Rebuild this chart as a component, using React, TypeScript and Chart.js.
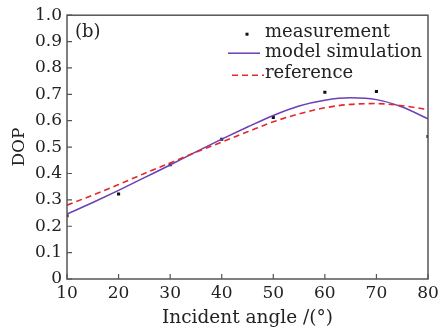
import React, { useEffect, useRef } from "react";
import { Chart, registerables } from "chart.js";

Chart.register(...registerables);

const measAngles = [10, 20, 30, 40, 50, 60, 70, 80];
const measValues = [0.24, 0.322, 0.433, 0.53, 0.612, 0.708, 0.711, 0.54];

const modelAngles = [10, 15, 20, 25, 30, 35, 40, 45, 50, 55, 60, 65, 70, 75, 80];
const modelValues = [0.246, 0.29, 0.336, 0.384, 0.432, 0.482, 0.53, 0.576, 0.62, 0.656, 0.678, 0.687, 0.68, 0.652, 0.607];

const refAngles = [10, 15, 20, 25, 30, 35, 40, 45, 50, 55, 60, 65, 70, 75, 80];
const refValues = [0.28, 0.318, 0.358, 0.4, 0.44, 0.481, 0.519, 0.558, 0.596, 0.626, 0.649, 0.662, 0.665, 0.657, 0.642];

const xTicks = [10, 20, 30, 40, 50, 60, 70, 80];
const yTicks = [0, 0.1, 0.2, 0.3, 0.4, 0.5, 0.6, 0.7, 0.8, 0.9, 1.0];

const legendLabels = ["measurement", "model simulation", "reference"];
const panelLabel = "(b)";

const FONT = "'DejaVu Serif', 'Liberation Serif', serif";
const FRAME = "#555555";
const PURPLE = "#6a40b4";
const RED = "#e5262b";

const framePlugin = {
  id: "frameTicks",
  afterDatasetsDraw(chart: any) {
    const { ctx, chartArea: a, scales } = chart;
    ctx.save();
    ctx.strokeStyle = FRAME;
    ctx.lineWidth = 1.5;
    ctx.strokeRect(a.left, a.top, a.right - a.left, a.bottom - a.top);
    ctx.lineWidth = 1.2;
    ctx.beginPath();
    xTicks.forEach((v) => {
      const x = scales.x.getPixelForValue(v);
      ctx.moveTo(x, a.bottom);
      ctx.lineTo(x, a.bottom - 5);
    });
    yTicks.forEach((v) => {
      const y = scales.y.getPixelForValue(v);
      ctx.moveTo(a.left, y);
      ctx.lineTo(a.left + 5, y);
    });
    ctx.stroke();

    // panel label
    ctx.fillStyle = "#222";
    ctx.font = `18px ${FONT}`;
    ctx.textBaseline = "middle";
    ctx.textAlign = "left";
    ctx.fillText(panelLabel, a.left + 8, a.top + 17);

    // legend
    const tx = a.left + 198;
    const rows = [a.top + 17, a.top + 37, a.top + 58];
    ctx.font = `18px ${FONT}`;
    ctx.fillStyle = "#222";
    legendLabels.forEach((t, i) => ctx.fillText(t, tx, rows[i]));
    ctx.fillStyle = "#111";
    ctx.fillRect(tx - 19.5, rows[0] + 0.5, 3, 3);
    ctx.strokeStyle = PURPLE;
    ctx.lineWidth = 1.5;
    ctx.setLineDash([]);
    ctx.beginPath();
    ctx.moveTo(tx - 37, rows[1] + 1);
    ctx.lineTo(tx - 5, rows[1] + 1);
    ctx.stroke();
    ctx.strokeStyle = RED;
    ctx.setLineDash([6, 4]);
    ctx.beginPath();
    ctx.moveTo(tx - 33, rows[2] + 2);
    ctx.lineTo(tx - 1, rows[2] + 2);
    ctx.stroke();
    ctx.restore();
  },
};

export default function App() {
  const ref = useRef<HTMLCanvasElement | null>(null);
  useEffect(() => {
    document.body.style.margin = "0";
    const chart = new Chart(ref.current as HTMLCanvasElement, {
      type: "scatter",
      data: {
        datasets: [
          {
            label: "reference",
            data: refAngles.map((x, i) => ({ x, y: refValues[i] })),
            showLine: true,
            borderColor: RED,
            borderWidth: 1.6,
            borderDash: [6, 4],
            pointRadius: 0,
            tension: 0.4,
            cubicInterpolationMode: "monotone",
          },
          {
            label: "model simulation",
            data: modelAngles.map((x, i) => ({ x, y: modelValues[i] })),
            showLine: true,
            borderColor: PURPLE,
            borderWidth: 1.5,
            pointRadius: 0,
            tension: 0.4,
            cubicInterpolationMode: "monotone",
          },
          {
            label: "measurement",
            data: measAngles.map((x, i) => ({ x, y: measValues[i] })),
            showLine: false,
            pointStyle: "rect",
            pointRadius: 2.2,
            backgroundColor: "#111",
            borderColor: "#111",
            borderWidth: 0,
          },
        ],
      },
      options: {
        animation: false,
        responsive: false,
        maintainAspectRatio: false,
        layout: { padding: { left: 0, top: 11, right: 18, bottom: 0 } },
        plugins: { legend: { display: false }, tooltip: { enabled: false } },
        scales: {
          x: {
            type: "linear",
            min: 10,
            max: 80,
            afterBuildTicks: (s: any) => {
              s.ticks = xTicks.map((v) => ({ value: v }));
            },
            afterFit: (s: any) => {
              s.height = 51;
            },
            grid: { display: false, drawTicks: false },
            border: { display: false },
            ticks: {
              color: "#222",
              font: { family: FONT, size: 17 },
              padding: 4,
              maxRotation: 0,
              callback: (v: any) => String(v),
            },
            title: {
              display: true,
              text: "Incident angle /(°)",
              color: "#222",
              font: { family: FONT, size: 18.5 },
              padding: { top: 0, bottom: 1 },
            },
          },
          y: {
            type: "linear",
            min: 0,
            max: 1,
            afterBuildTicks: (s: any) => {
              s.ticks = yTicks.map((v) => ({ value: v }));
            },
            afterFit: (s: any) => {
              s.width = 67;
            },
            grid: { display: false, drawTicks: false },
            border: { display: false },
            ticks: {
              color: "#222",
              font: { family: FONT, size: 17 },
              padding: 5,
              callback: (v: any) => (v === 0 ? "0" : Number(v).toFixed(1)),
            },
            title: {
              display: true,
              text: "DOP",
              color: "#222",
              font: { family: FONT, size: 17 },
              padding: { top: 9, bottom: 0 },
            },
          },
        },
      },
      plugins: [framePlugin],
    } as any);
    return () => chart.destroy();
  }, []);
  return (
    <div style={{ position: "fixed", left: 0, top: 0, width: 446, height: 330, background: "#fff" }}>
      <canvas ref={ref} width={446} height={330} style={{ width: 446, height: 330 }} />
    </div>
  );
}
